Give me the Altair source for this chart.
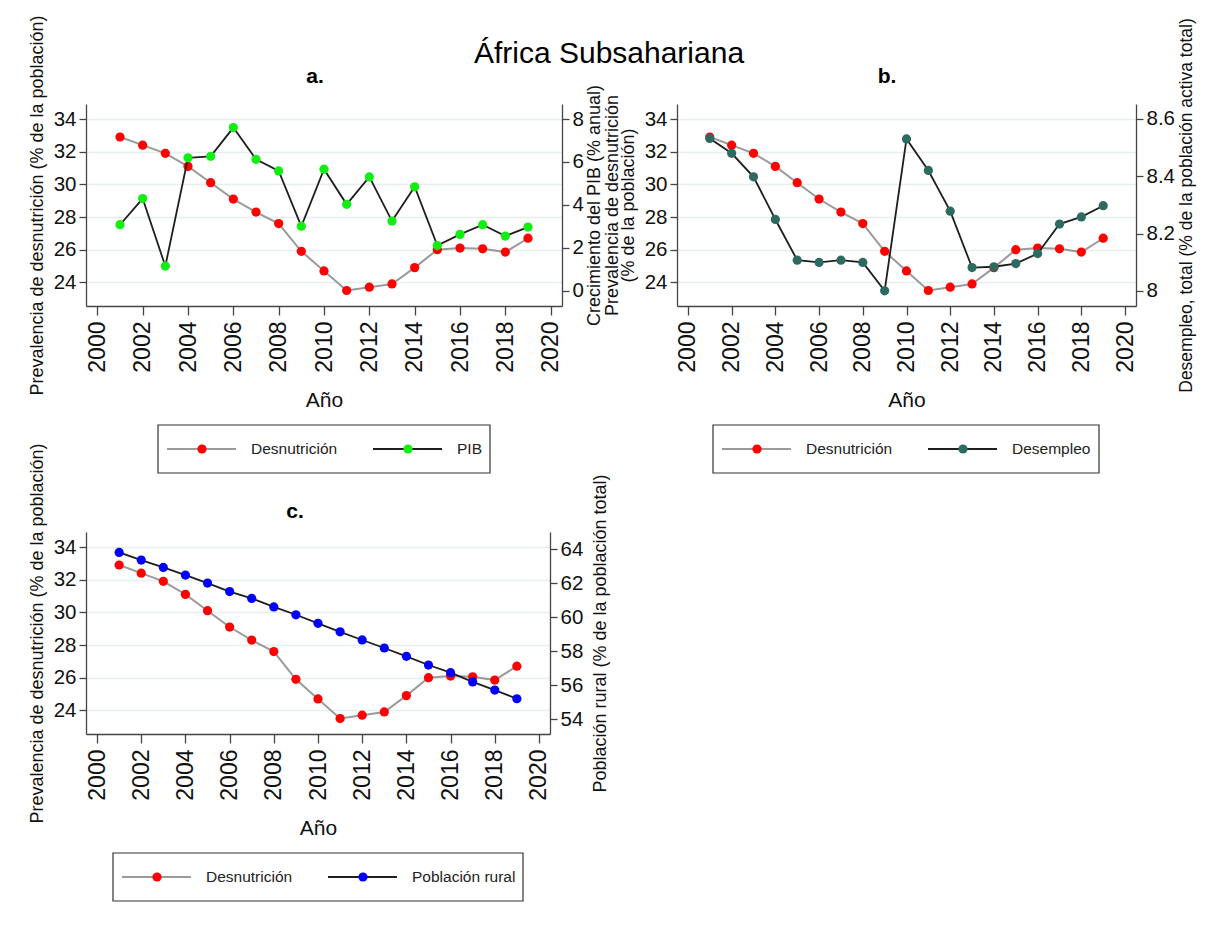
import altair as alt
import pandas as pd

# ---------------- data ----------------
years = list(range(2001, 2020))
desnutricion = [32.9, 32.4, 31.9, 31.1, 30.1, 29.1, 28.3, 27.6, 25.9, 24.7,
                23.5, 23.7, 23.9, 24.9, 26.0, 26.1, 26.05, 25.85, 26.7]
pib = [3.07, 4.29, 1.14, 6.19, 6.26, 7.6, 6.12, 5.58, 3.0, 5.66,
       4.02, 5.3, 3.24, 4.84, 2.1, 2.62, 3.07, 2.54, 2.96]
desempleo = [8.532, 8.48, 8.398, 8.249, 8.107, 8.099, 8.107, 8.099, 8.0, 8.53,
             8.42, 8.278, 8.081, 8.084, 8.095, 8.13, 8.233, 8.258, 8.297]
rural = [63.8, 63.35, 62.92, 62.47, 62.0, 61.5, 61.1, 60.6, 60.14, 59.64,
         59.14, 58.66, 58.19, 57.7, 57.19, 56.74, 56.2, 55.72, 55.21]

x_ticks = list(range(2000, 2021, 2))
left_ticks = [24, 26, 28, 30, 32, 34]
pib_ticks = [0, 2, 4, 6, 8]
desempleo_ticks = [8.0, 8.2, 8.4, 8.6]
rural_ticks = [54, 56, 58, 60, 62, 64]

df = pd.DataFrame({"year": years, "desnut": desnutricion, "pib": pib,
                   "desempleo": desempleo, "rural": rural})

MAIN_TITLE = "África Subsahariana"

# ---------------- styles ----------------
FONT = "Liberation Sans, Arial, sans-serif"
GRAY = "#9a9a9a"
DARK = "#1e1e1e"
RED = "#ff0000"
GREEN = "#11ee11"
TEAL = "#2d6b62"
BLUE = "#0000ff"
AXIS_C = "#444444"
GRID_C = "#e6eef0"

PH = 202
MS = 85
LEG_TOP = 321      # legend box top, measured from the plot top
LEG_H = 48


def x_enc():
    return alt.X("year:Q",
                 scale=alt.Scale(domain=[1999.5, 2020.5], nice=False, zero=False),
                 axis=alt.Axis(values=x_ticks, format="d", labelAngle=270,
                               labelFontSize=23, tickSize=9, labelPadding=6,
                               title="Año", titleFontSize=21,
                               titleFontWeight="normal", titlePadding=17,
                               grid=False))


def text_layer(txt, px, py, size, weight="normal"):
    return alt.Chart(pd.DataFrame({"t": [txt]})).mark_text(
        align="center", baseline="alphabetic", font=FONT, fontSize=size,
        fontWeight=weight, color="#000").encode(
        x=alt.value(px), y=alt.value(py), text="t:N")


def legend_layer(labels, dot_color, box_left, box_width):
    ld = pd.DataFrame({"idx": [0, 1], "label": labels,
                       "lc": [GRAY, DARK], "dc": [RED, dot_color]})
    xs = alt.X("idx:Q", scale=alt.Scale(domain=[0, 1],
                                        range=[box_left + 9, box_left + 215]),
               axis=None)
    yc = alt.value(LEG_TOP + LEG_H / 2)
    base = alt.Chart(ld)
    rule = base.mark_rule(strokeWidth=2, x2Offset=69).encode(
        x=xs, x2=alt.X2("idx:Q"), y=yc, color=alt.Color("lc:N", scale=None))
    dot = base.mark_circle(size=MS, opacity=1, xOffset=35).encode(
        x=xs, y=yc, color=alt.Color("dc:N", scale=None))
    txt = base.mark_text(align="left", baseline="middle", xOffset=84,
                         font=FONT, fontSize=15.5, color="#222").encode(
        x=xs, y=yc, text="label:N")
    box = alt.Chart(pd.DataFrame({"k": [0]})).mark_rect(
        filled=False, stroke="#333333", strokeWidth=1.2).encode(
        x=alt.value(box_left), x2=alt.value(box_left + box_width),
        y=alt.value(LEG_TOP), y2=alt.value(LEG_TOP + LEG_H))
    return alt.layer(box, rule, dot, txt)


def panel(other, other_color, right_title, right_domain, right_ticks,
          right_fmt, left_title, width, labels, box_left, box_width, rpad,
          rsize, extra_texts):
    base = alt.Chart(df)
    yl = alt.Y("desnut:Q",
               scale=alt.Scale(domain=[22.55, 34.92], nice=False, zero=False),
               axis=alt.Axis(values=left_ticks, orient="left", grid=True,
                             gridColor=GRID_C, gridWidth=1.6,
                             title=left_title, titleFontSize=18,
                             titleFontWeight="normal", titlePadding=7,
                             titleLineHeight=16))
    yr = alt.Y(f"{other}:Q",
               scale=alt.Scale(domain=right_domain, nice=False, zero=False),
               axis=alt.Axis(values=right_ticks, orient="right", grid=False,
                             format=right_fmt,
                             title=right_title, titleFontSize=rsize,
                             titleFontWeight="normal", titleAngle=270,
                             titleBaseline="top", titlePadding=rpad))
    l1 = base.mark_line(color=GRAY, strokeWidth=2).encode(x=x_enc(), y=yl)
    p1 = base.mark_circle(color=RED, size=MS, opacity=1).encode(x=x_enc(), y=yl)
    l2 = base.mark_line(color=DARK, strokeWidth=1.8).encode(x=x_enc(), y=yr)
    p2 = base.mark_circle(color=other_color, size=MS, opacity=1).encode(x=x_enc(), y=yr)
    data_layer = alt.layer(alt.layer(l1, p1), alt.layer(l2, p2)).resolve_scale(
        y="independent")
    leg = legend_layer(labels, other_color, box_left, box_width)
    return alt.layer(data_layer, leg, *extra_texts).resolve_scale(
        x="independent").properties(width=width, height=PH)


LT = "Prevalencia de desnutrición (% de la población)"

pa = panel("pib", GREEN, "Crecimiento del PIB (% anual)", [-0.72, 8.70],
           pib_ticks, "d", LT, 476, ["Desnutrición", "PIB"], 72, 332, 2, 18,
           [text_layer("a.", 229, -21, 21, "bold"),
            text_layer(MAIN_TITLE, 523, -41, 30)])
pb = panel("desempleo", TEAL, "Desempleo, total (% de la población activa total)",
           [7.947, 8.652], desempleo_ticks, "~g",
           ["Prevalencia de desnutrición", "(% de la población)"], 459,
           ["Desnutrición", "Desempleo"], 36, 386, 3, 17.5,
           [text_layer("b.", 210, -21, 21, "bold")])
pc = panel("rural", BLUE, "Población rural (% de la población total)",
           [53.14, 65.0], rural_ticks, "d", LT, 464,
           ["Desnutrición", "Población rural"], 27, 410, 9, 18,
           [text_layer("c.", 209, -14, 21, "bold")])

chart = alt.concat(pa, pb, pc, columns=2, bounds="flush",
                   spacing=alt.RowColnumber(row=226, column=115)).properties(
    padding={"left": 28, "top": 14, "right": 10, "bottom": 10},
    background="white",
).configure_view(stroke=None).configure_axis(
    domainColor=AXIS_C, domainWidth=1.3, tickColor=AXIS_C, tickWidth=1.3,
    tickSize=7, labelPadding=3, labelColor="#111", titleColor="#111",
    labelFont=FONT, titleFont=FONT, labelFontSize=20.5,
)

chart.save("out.html", embed_options={"renderer": "svg", "actions": False})
